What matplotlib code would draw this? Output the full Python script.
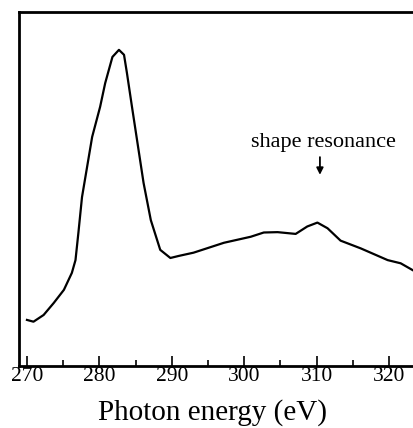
import matplotlib.pyplot as plt
from matplotlib.ticker import MultipleLocator

# photon energy (eV) and intensity (arb. units)
energy = [270.0, 270.9, 272.3, 273.7, 275.1, 276.2, 276.7, 277.1, 277.6, 278.3,
          279.0, 280.1, 280.8, 281.3, 281.8, 282.7, 283.4, 283.8, 284.5, 285.2,
          286.1, 287.1, 288.4, 289.8, 291.0, 293.0, 297.2, 300.9, 302.7, 304.6,
          307.1, 308.7, 310.1, 311.5, 313.3, 316.1, 319.8, 321.6, 323.4]
intensity = [0.130, 0.125, 0.144, 0.178, 0.215, 0.263, 0.299, 0.376, 0.477, 0.562,
             0.647, 0.732, 0.799, 0.836, 0.873, 0.893, 0.879, 0.828, 0.732, 0.638,
             0.517, 0.412, 0.328, 0.305, 0.311, 0.320, 0.348, 0.365, 0.377, 0.378,
             0.373, 0.394, 0.405, 0.389, 0.354, 0.332, 0.299, 0.290, 0.269]
xticks = [270, 280, 290, 300, 310, 320]

plt.rcParams['font.family'] = ['Liberation Serif', 'DejaVu Serif']

fig = plt.figure(figsize=(4.13, 4.28), dpi=100)
ax = fig.add_axes([0.046, 0.145, 0.954, 0.827])
ax.plot(energy, intensity, color='black', lw=1.6, solid_joinstyle='round')

ax.set_xlim(268.9, 323.3)
ax.set_ylim(0, 1)
ax.set_xticks(xticks)
ax.xaxis.set_minor_locator(MultipleLocator(5))
ax.tick_params(axis='x', direction='in', length=7, width=1.2, labelsize=15.5, pad=1)
ax.tick_params(axis='x', which='minor', direction='in', length=4, width=1.2)
ax.set_yticks([])
ax.spines['right'].set_visible(False)
for s in ['left', 'top', 'bottom']:
    ax.spines[s].set_linewidth(2)

fig.text(0.5145, 0.004, 'Photon energy (eV)', fontsize=21, ha='center', va='bottom')

ax.text(311.0, 0.619, 'shape resonance', ha='center', va='baseline', fontsize=16)
ax.annotate('', xy=(310.45, 0.54), xytext=(310.45, 0.59),
            arrowprops=dict(arrowstyle='-|>', color='black', lw=1.3,
                            mutation_scale=10, shrinkA=0, shrinkB=0))

fig.savefig('out.png', dpi=100)
